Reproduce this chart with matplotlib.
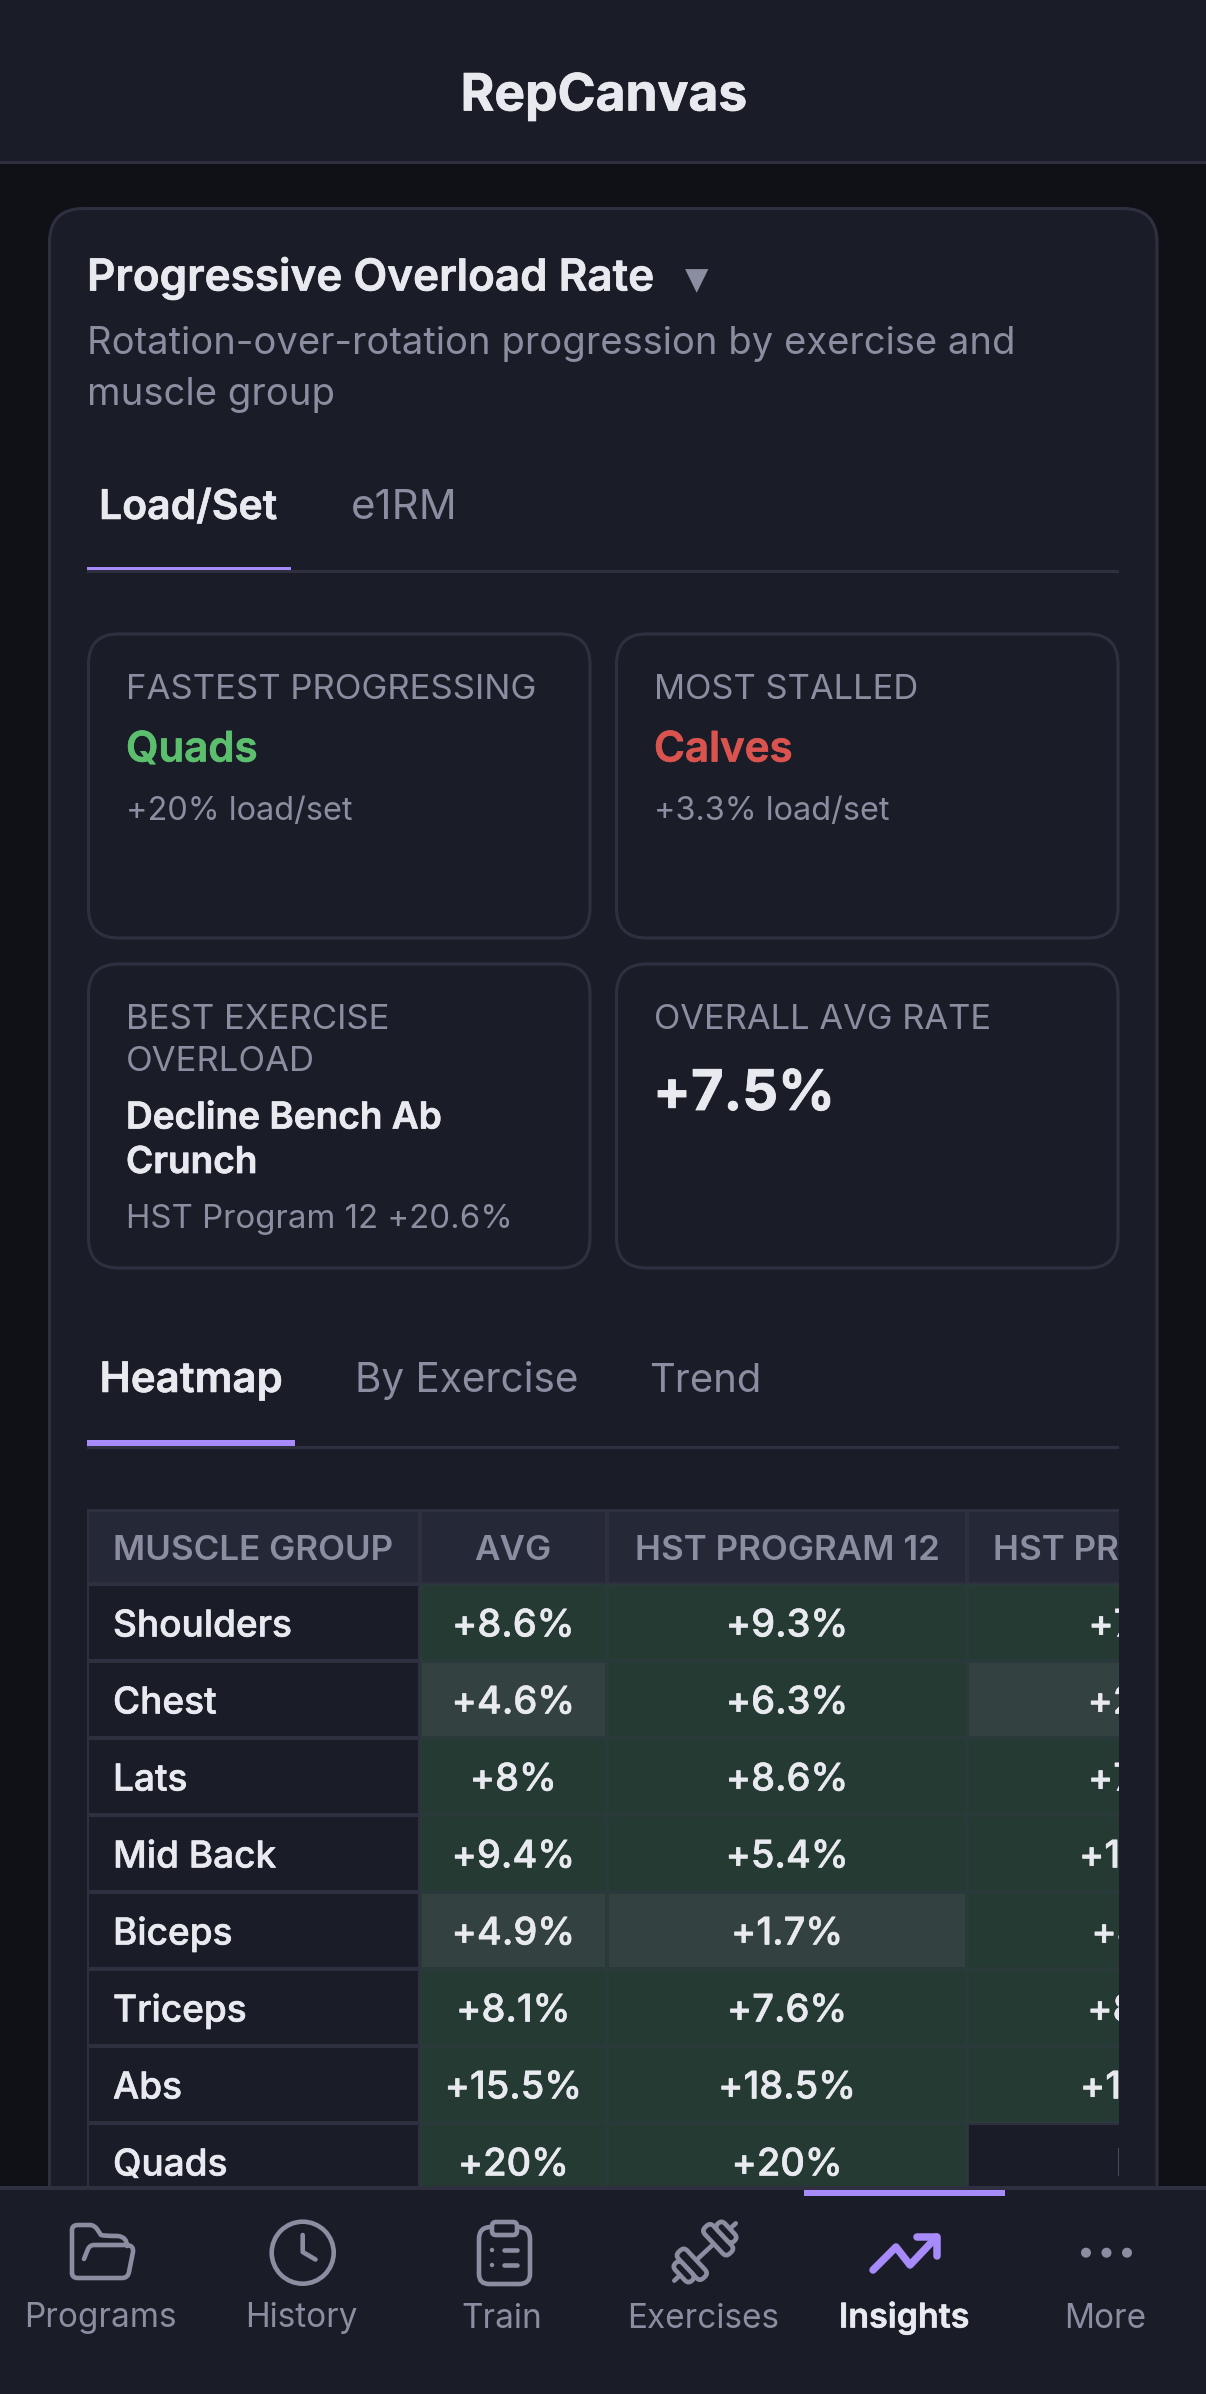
import matplotlib
matplotlib.use("Agg")
import matplotlib.pyplot as plt
import matplotlib.patheffects as pe
from matplotlib.patches import FancyBboxPatch, Rectangle, Circle, PathPatch
from matplotlib.path import Path
from matplotlib.transforms import Affine2D

# ---- data ----
muscles = ["Shoulders", "Chest", "Lats", "Mid Back", "Biceps", "Triceps", "Abs", "Quads"]
avg_rate = [8.6, 4.6, 8, 9.4, 4.9, 8.1, 15.5, 20]
hst_12 = [9.3, 6.3, 8.6, 5.4, 1.7, 7.6, 18.5, 20]
hst_13 = [7.9, 2.9, 7.4, 13.4, 8.1, 8.6, 12.5, None]
columns = ["MUSCLE GROUP", "AVG", "HST PROGRAM 12", "HST PROGRAM 13"]
nav_labels = ["Programs", "History", "Train", "Exercises", "Insights", "More"]

BG = "#0f1117"; PANEL = "#1a1d27"; LINE = "#2e3040"; HEAD = "#252836"
TXT = "#e8eaf0"; MUTED = "#8b8da0"; PURPLE = "#a78bfa"; DIM = "#5a5c6e"
G1 = "#253a33"; G2 = "#334240"; GEDGE = "#2a3a3a"; GREEN = "#5cbf6e"; RED = "#d9534f"

plt.rcParams['font.family'] = ['Inter', 'DejaVu Sans']
fig = plt.figure(figsize=(12.06, 23.94), dpi=100, facecolor=BG)
ax = fig.add_axes([0, 0, 1, 1])
ax.set_xlim(0, 1206); ax.set_ylim(2394, 0); ax.axis("off")
PT = 0.72

def T(x, y, s, px, color=TXT, weight="normal", ha="left", clip=None, z=5, stroke=0):
    t = ax.text(x, y, s, fontsize=px * PT, color=color, fontweight=weight, ha=ha, va="baseline", zorder=z)
    if stroke:
        t.set_path_effects([pe.withStroke(linewidth=stroke, foreground=color)])
    if clip is not None:
        t.set_clip_path(clip); t.set_clip_on(True)
    return t

def R(x0, y0, x1, y1, fc, z=1):
    r = Rectangle((x0, y0), x1 - x0, y1 - y0, fc=fc, ec="none", lw=0, zorder=z)
    ax.add_patch(r)
    return r

def RR(x0, y0, x1, y1, rad, fc, ec, lw=2.2, z=2):
    p = FancyBboxPatch((x0, y0), x1 - x0, y1 - y0, boxstyle=f"round,pad=0,rounding_size={rad}",
                       fc=fc, ec=ec, lw=lw, zorder=z)
    ax.add_patch(p)
    return p

# main card
RR(49.5, 208.5, 1157, 2500, 34, PANEL, LINE, lw=2.2, z=1)

# top bar
R(0, 0, 1206, 161, PANEL, z=3)
R(0, 161, 1206, 164, LINE, z=3)
T(604, 110.5, "RepCanvas", 51.5, weight="bold", ha="center", stroke=0.5)

T(87, 290.5, "Progressive Overload Rate", 44, weight="semibold", stroke=0.5)
ax.text(697, 289, "\u25BC", fontsize=22, color=MUTED, ha="center", va="baseline", family="DejaVu Sans", zorder=5)
T(87, 354, "Rotation-over-rotation progression by exercise and", 38.2, color=MUTED)
T(87, 405, "muscle group", 38.2, color=MUTED)

# segment tabs
T(99, 519, "Load/Set", 41, weight="semibold", stroke=0.4)
T(351, 519, "e1RM", 42, color=MUTED)
R(87, 570, 1119, 573, LINE)
R(87, 566.5, 291, 570, PURPLE, z=2)

# stat cards
RR(88.5, 634, 590, 938, 30, PANEL, LINE)
RR(616.5, 634, 1118, 938, 30, PANEL, LINE)
RR(88.5, 964, 590, 1268, 30, PANEL, LINE)
RR(616.5, 964, 1118, 1268, 30, PANEL, LINE)
T(126, 699, "FASTEST PROGRESSING", 34.8, color=MUTED)
T(126, 761.5, "Quads", 42, color=GREEN, weight="semibold", stroke=0.5)
T(126, 819.5, "+20% load/set", 32.5, color=MUTED)
T(654, 699, "MOST STALLED", 34.5, color=MUTED)
T(654, 761.5, "Calves", 42, color=RED, weight="semibold", stroke=0.5)
T(654, 819.5, "+3.3% load/set", 32.5, color=MUTED)
T(126, 1029, "BEST EXERCISE", 34.8, color=MUTED)
T(126, 1071, "OVERLOAD", 34.8, color=MUTED)
T(126, 1128.5, "Decline Bench Ab", 37, weight="semibold", stroke=0.5)
T(126, 1173, "Crunch", 37, weight="semibold", stroke=0.5)
T(126, 1228, "HST Program 12 +20.6%", 33, color=MUTED)
T(654, 1029, "OVERALL AVG RATE", 34.5, color=MUTED)
T(653, 1110, "+7.5%", 56, weight="bold", stroke=0.6)

# view tabs
T(99.5, 1392, "Heatmap", 42, weight="semibold", stroke=0.4)
T(355, 1392, "By Exercise", 40.5, color=MUTED)
T(649, 1392, "Trend", 40, color=MUTED)
R(87, 1446, 1119, 1449, LINE)
R(87, 1440, 295, 1446, PURPLE, z=2)

# heatmap table
col_edges = [87, 419.5, 607, 967, 1330]
hdr_top, hdr_bot, row_h = 1509, 1584, 77
clip = Rectangle((87, 1500), 1032, 700, transform=ax.transData)
R(87, hdr_top, 1119, 2200, LINE, z=2).set_clip_path(clip)
rows = [avg_rate, hst_12, hst_13]
header_nudge = [0, 0, 0, -3]

def cell(x0, y0, x1, y1, fc, edge=None):
    if edge is not None:
        R(x0, y0, x1 + 1, y1, edge, z=2.1).set_clip_path(clip)
    R(x0 + 2, y0 + 2, x1 - 2, y1 - 2, fc, z=2.2).set_clip_path(clip)

for c, name in enumerate(columns):
    x0, x1 = col_edges[c], col_edges[c + 1]
    cell(x0, hdr_top + 1, x1, hdr_bot - 0.5, HEAD)
    if c == 0:
        T(113, 1559.5, name, 35, color=MUTED, weight="semibold", clip=clip)
    else:
        T((x0 + x1) / 2 + header_nudge[c], 1559.5, name, 35, color=MUTED, weight="semibold", ha="center", clip=clip)

for i, m in enumerate(muscles):
    y0 = hdr_bot + i * row_h
    y1 = y0 + row_h
    cell(col_edges[0], y0, col_edges[1], y1, PANEL)
    T(113, y0 + 52.5, m, 37, weight="medium", clip=clip, stroke=0.4)
    for c, vals in enumerate(rows):
        v = vals[i]
        x0, x1 = col_edges[c + 1], col_edges[c + 2]
        if v is None:
            cell(x0, y0, x1, y1, PANEL)
            T((x0 + x1) / 2, y0 + 52.5, "N/A", 37, color=DIM, ha="center", clip=clip)
            continue
        fill = G2 if v < 5 else G1
        cell(x0, y0, x1, y1, fill, edge=GEDGE)
        T((x0 + x1) / 2, y0 + 52.5, f"+{v:g}%", 38, weight="medium", ha="center", clip=clip, stroke=0.4)

# bottom nav
R(0, 2186, 1206, 2394, PANEL, z=10)
R(0, 2186, 1206, 2190, LINE, z=10)
R(804, 2190, 1005, 2196, PURPLE, z=11)

nav_x = [100, 301, 502, 703, 904, 1105]
for x, lab in zip(nav_x, nav_labels):
    active = lab == "Insights"
    T(x, 2327.5, lab, 34 if active else 33.3, color=TXT if active else MUTED,
      weight="semibold" if active else "normal", ha="center", z=12, stroke=0.4 if active else 0)

# ---- icons (hand-drawn glyphs, pixel coordinates) ----
ILW = 4.6 * PT
def icon(verts, codes=None, color=MUTED, lw=ILW, fc="none", tf=None):
    p = PathPatch(Path(verts, codes), fc=fc, ec=color, lw=lw, capstyle="round", joinstyle="round", zorder=12)
    if tf is not None:
        p.set_transform(tf + ax.transData)
    ax.add_patch(p)
    return p
M, L, Q = Path.MOVETO, Path.LINETO, Path.CURVE3
# folder
fv = [(72, 2273), (72, 2230), (72, 2225), (78, 2225), (90, 2225), (94, 2225), (97, 2229), (101, 2235), (104, 2236),
      (118, 2236), (127, 2237), (127, 2246)]
fc_ = [M, L, Q, Q, L, Q, Q, L, Q, L, Q, Q]
icon(fv, fc_)
icon([(84, 2259), (88, 2249), (90, 2245), (94, 2245), (126, 2245), (134, 2245), (133, 2252), (129, 2272), (128, 2278), (122, 2278),
      (78, 2278), (72, 2278), (72, 2273)], [M, L, Q, Q, L, Q, Q, L, Q, Q, L, Q, Q])
# clock
ax.add_patch(Circle((302.7, 2252.7), 31, fc="none", ec=MUTED, lw=ILW, zorder=12))
icon([(302.7, 2235), (302.7, 2252), (315.5, 2259.5)], [M, L, L])
# clipboard
icon([(491, 2227), (479, 2227), (479, 2239), (479, 2274), (479, 2284), (489, 2284), (519, 2284), (530, 2284), (530, 2274),
      (530, 2239), (530, 2227), (518, 2227)], [M, Q, Q, L, Q, Q, L, Q, Q, L, Q, Q])
RR(492, 2222, 517, 2235, 4, "none", MUTED, lw=ILW, z=12)
icon([(503.5, 2250), (517, 2250)], [M, L])
icon([(503.5, 2265), (517, 2265)], [M, L])
ax.add_patch(Circle((492, 2250), 2.2, fc=MUTED, ec="none", zorder=12))
ax.add_patch(Circle((492, 2265), 2.2, fc=MUTED, ec="none", zorder=12))
# dumbbell
tf = Affine2D().rotate_deg(-43).translate(705, 2252)
icon([(-42, 0), (-34, 0)], [M, L], tf=tf)
icon([(34, 0), (42, 0)], [M, L], tf=tf)
icon([(-12, 0), (12, 0)], [M, L], tf=tf)
for sx in (-1, 1):
    for (a, b, h) in ((12, 24, 18), (24, 34, 12)):
        xa, xb = sorted((sx * a, sx * b))
        p = FancyBboxPatch((xa, -h), xb - xa, 2 * h, boxstyle="round,pad=0,rounding_size=5", fc=PANEL,
                           ec=MUTED, lw=ILW, zorder=12)
        p.set_transform(tf + ax.transData)
        ax.add_patch(p)
# trend arrow
icon([(873, 2270), (896, 2247), (910, 2265), (936.5, 2237)], [M, L, L, L], color=PURPLE, lw=7.5 * PT)
icon([(917, 2237), (936.5, 2237), (936.5, 2256)], [M, L, L], color=PURPLE, lw=7.5 * PT)
# more dots
for x in (1086, 1106.5, 1127):
    ax.add_patch(Circle((x, 2252.7), 5, fc=MUTED, ec="none", zorder=12))

fig.savefig("out.png", dpi=100, facecolor=BG)
